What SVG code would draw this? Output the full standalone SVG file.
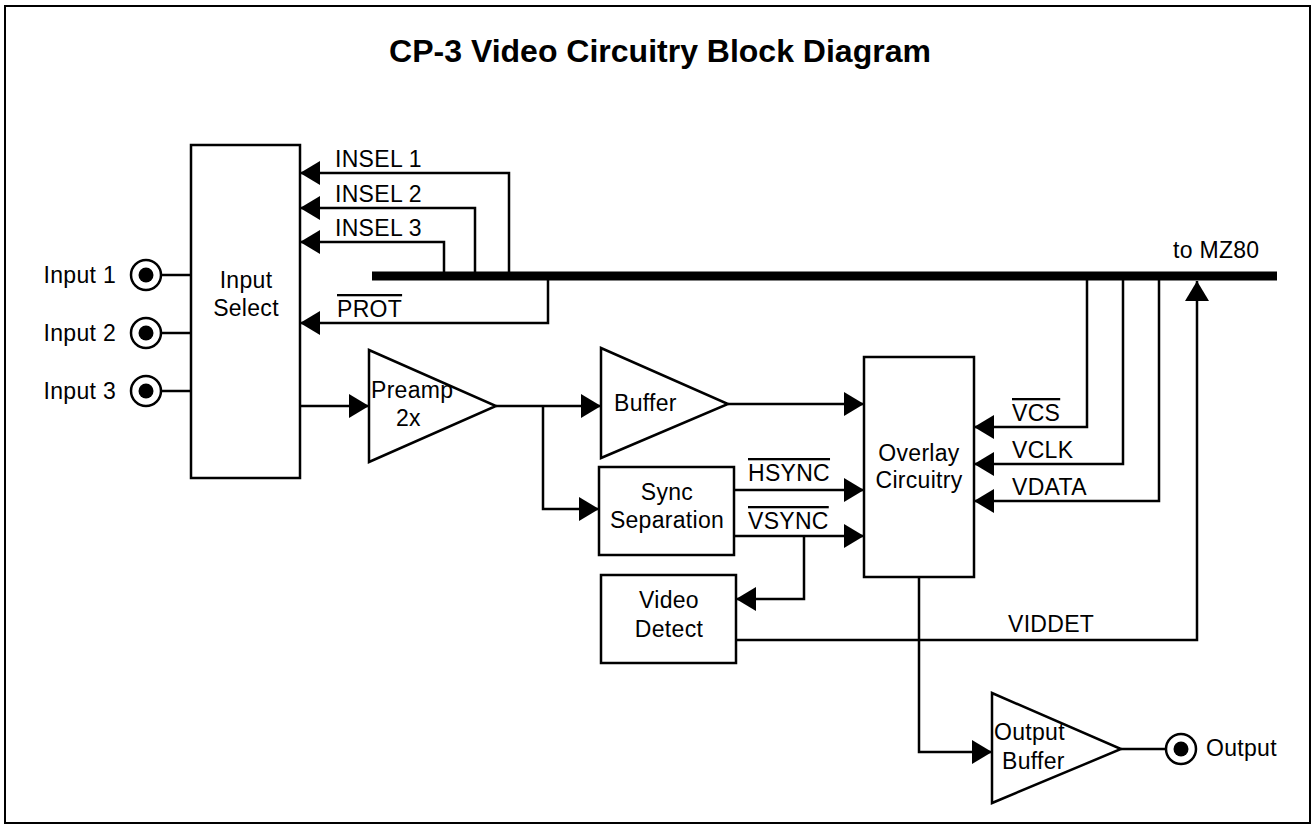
<svg xmlns="http://www.w3.org/2000/svg" width="1316" height="834" viewBox="0 0 1316 834">
<defs>
<style>
text{font-family:"Liberation Sans",Arial,sans-serif;font-size:23px;letter-spacing:0.3px;fill:#000}
.title{font-size:32px;font-weight:bold;letter-spacing:0}
.c{text-anchor:middle}
.ov{text-decoration:overline}
.box{fill:#fff;stroke:#000;stroke-width:2.5}
.w{fill:none;stroke:#000;stroke-width:2.5}
.a{fill:none;stroke:#000;stroke-width:2.5;marker-end:url(#ah)}
</style>
<marker id="ah" markerUnits="userSpaceOnUse" viewBox="0 0 20 24" refX="20" refY="12" markerWidth="20" markerHeight="24" orient="auto">
<path d="M0,0 L20,12 L0,24 z" fill="#000"/>
</marker>
</defs>
<rect x="0" y="0" width="1316" height="834" fill="#fff"/>
<rect x="5" y="6" width="1305" height="817" fill="none" stroke="#000" stroke-width="2"/>
<text class="title c" x="660" y="62">CP-3 Video Circuitry Block Diagram</text>

<g id="connectors">
<line x1="161" y1="275" x2="191" y2="275" class="w"/>
<line x1="161" y1="333" x2="191" y2="333" class="w"/>
<line x1="161" y1="391" x2="191" y2="391" class="w"/>
<path d="M509,276 V173 H300" class="a"/>
<path d="M475,276 V208 H300" class="a"/>
<path d="M444,276 V242 H300" class="a"/>
<path d="M548,276 V323 H300" class="a"/>
<line x1="372" y1="276" x2="1277" y2="276" stroke="#000" stroke-width="9"/>
<path d="M300,406 H369" class="a"/>
<path d="M496,406 H601" class="a"/>
<path d="M543,406 V509 H599" class="a"/>
<path d="M728,404 H864" class="a"/>
<path d="M734,490 H864" class="a"/>
<path d="M734,536 H864" class="a"/>
<path d="M804,536 V599 H736" class="a"/>
<path d="M736,640 H1197 V281" class="a"/>
<path d="M1087,276 V427 H974" class="a"/>
<path d="M1123,276 V464 H974" class="a"/>
<path d="M1159,276 V501 H974" class="a"/>
<path d="M919,577 V752 H992" class="a"/>
<line x1="1121" y1="749" x2="1166" y2="749" class="w"/>
</g>

<g id="input1">
<circle cx="146" cy="275" r="15" class="box"/><circle cx="146" cy="275" r="7.5" fill="#000"/>
<text x="116" y="283" text-anchor="end">Input 1</text>
</g>
<g id="input2">
<circle cx="146" cy="333" r="15" class="box"/><circle cx="146" cy="333" r="7.5" fill="#000"/>
<text x="116" y="341" text-anchor="end">Input 2</text>
</g>
<g id="input3">
<circle cx="146" cy="391" r="15" class="box"/><circle cx="146" cy="391" r="7.5" fill="#000"/>
<text x="116" y="399" text-anchor="end">Input 3</text>
</g>

<g id="input-select">
<rect x="191" y="145" width="109" height="333" class="box"/>
<text class="c" x="246" y="288">Input</text>
<text class="c" x="246" y="316">Select</text>
</g>

<g id="signal-labels">
<text x="335" y="167">INSEL 1</text>
<text x="335" y="202">INSEL 2</text>
<text x="335" y="236">INSEL 3</text>
<text x="337" y="317" class="ov">PROT</text>
<text x="1173" y="258">to MZ80</text>
<text x="748" y="481" class="ov">HSYNC</text>
<text x="748" y="529" class="ov">VSYNC</text>
<text x="1012" y="421" class="ov">VCS</text>
<text x="1012" y="458">VCLK</text>
<text x="1012" y="495">VDATA</text>
<text x="1008" y="632">VIDDET</text>
</g>

<g id="preamp">
<path d="M369,350 L369,462 L496,406 Z" class="box"/>
<text x="371" y="398">Preamp</text>
<text x="396" y="426">2x</text>
</g>

<g id="buffer">
<path d="M601,348 L601,458 L728,404 Z" class="box"/>
<text x="614" y="411">Buffer</text>
</g>

<g id="sync-separation">
<rect x="599" y="467" width="135" height="88" class="box"/>
<text class="c" x="667" y="500">Sync</text>
<text class="c" x="667" y="528">Separation</text>
</g>

<g id="video-detect">
<rect x="601" y="575" width="135" height="88" class="box"/>
<text class="c" x="669" y="608">Video</text>
<text class="c" x="669" y="637">Detect</text>
</g>

<g id="overlay">
<rect x="864" y="357" width="110" height="220" class="box"/>
<text class="c" x="919" y="461">Overlay</text>
<text class="c" x="919" y="488">Circuitry</text>
</g>

<g id="output-buffer">
<path d="M992,693 L992,803 L1121,749 Z" class="box"/>
<text x="994" y="740">Output</text>
<text x="1002" y="769">Buffer</text>
</g>

<g id="output">
<circle cx="1181" cy="749" r="15" class="box"/><circle cx="1181" cy="749" r="7.5" fill="#000"/>
<text x="1206" y="756">Output</text>
</g>
</svg>
